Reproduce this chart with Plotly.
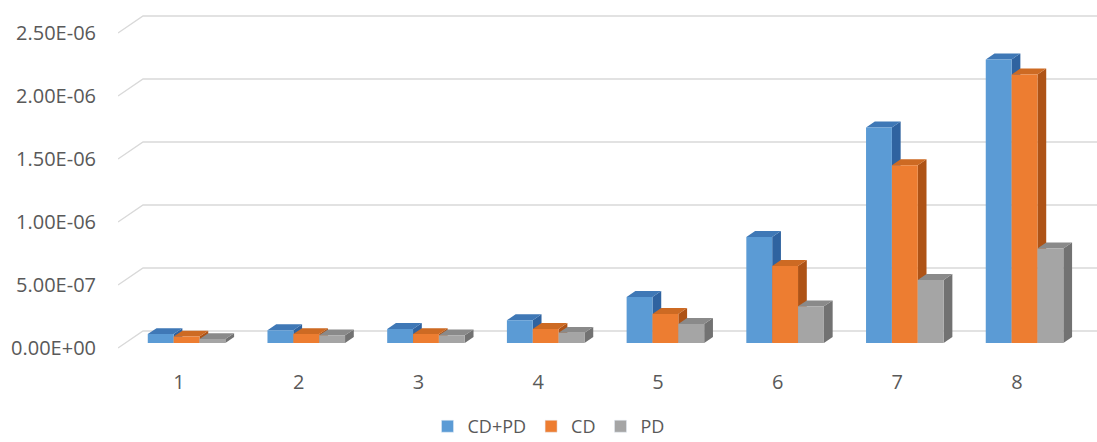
import plotly.graph_objects as go

# Data
categories = [1, 2, 3, 4, 5, 6, 7, 8]
category_labels = ["1", "2", "3", "4", "5", "6", "7", "8"]
cd_pd = [7e-8, 1.0e-7, 1.1e-7, 1.8e-7, 3.65e-7, 8.4e-7, 1.71e-6, 2.25e-6]
cd = [5e-8, 7e-8, 7e-8, 1.1e-7, 2.3e-7, 6.1e-7, 1.41e-6, 2.13e-6]
pd_vals = [3e-8, 6e-8, 6e-8, 8e-8, 1.5e-7, 2.9e-7, 5.0e-7, 7.5e-7]
series_names = ["CD+PD", "CD", "PD"]
tick_values = [0, 5e-7, 1e-6, 1.5e-6, 2e-6, 2.5e-6]
tick_labels = ["0.00E+00", "5.00E-07", "1.00E-06", "1.50E-06", "2.00E-06", "2.50E-06"]

# Styling: front / top / side shades per series
colors = [
    ("#5b9bd5", "#3f78b6", "#2f63a0"),
    ("#ed7d31", "#cd6a23", "#ae5316"),
    ("#a5a5a5", "#8a8a8a", "#727272"),
]
FONT = dict(family="Open Sans", size=20, color="#595959")
LEGEND_FONT = dict(family="Open Sans", size=18, color="#595959")

# Oblique projection for the pseudo-3D look
X_RANGE = [0.49, 8.668]
Y_RANGE = [-9.52e-8, 2.6825e-6]
DX = 0.209          # floor depth, x units
DY = 1.349e-7       # floor depth, value units
D_FRONT, D_BACK = 0.30, 0.65
BAR_W = 0.216

fig = go.Figure()

# Back-wall gridlines with the diagonal on the left side wall
gx, gy = [], []
for v in tick_values:
    gx += [X_RANGE[0], X_RANGE[0] + DX, X_RANGE[1] + 1, None]
    gy += [v, v + DY, v + DY, None]
fig.add_trace(go.Scatter(x=gx, y=gy, mode="lines",
                         line=dict(color="#d9d9d9", width=1.4),
                         hoverinfo="skip", showlegend=False))


def shift(x, y, d):
    return x + d * DX, y + d * DY


all_series = [cd_pd, cd, pd_vals]
for s, (name, vals) in enumerate(zip(series_names, all_series)):
    front_c, top_c, side_c = colors[s]
    fx, fy, tx, ty, sx, sy = [], [], [], [], [], []
    for c, v in zip(categories, vals):
        x0 = c - 1.5 * BAR_W + s * BAR_W
        x1 = x0 + BAR_W
        # front face
        pts = [shift(x0, 0, D_FRONT), shift(x1, 0, D_FRONT),
               shift(x1, v, D_FRONT), shift(x0, v, D_FRONT)]
        fx += [p[0] for p in pts] + [None]
        fy += [p[1] for p in pts] + [None]
        # top face
        pts = [shift(x0, v, D_FRONT), shift(x1, v, D_FRONT),
               shift(x1, v, D_BACK), shift(x0, v, D_BACK)]
        tx += [p[0] for p in pts] + [None]
        ty += [p[1] for p in pts] + [None]
        # right side face
        pts = [shift(x1, 0, D_FRONT), shift(x1, v, D_FRONT),
               shift(x1, v, D_BACK), shift(x1, 0, D_BACK)]
        sx += [p[0] for p in pts] + [None]
        sy += [p[1] for p in pts] + [None]
    for xs, ys, col in ((sx, sy, side_c), (tx, ty, top_c), (fx, fy, front_c)):
        fig.add_trace(go.Scatter(x=xs, y=ys, mode="lines", fill="toself",
                                 fillcolor=col, line=dict(width=0, color=col),
                                 hoverinfo="skip", showlegend=False))

# Legend entries
for s, name in enumerate(series_names):
    fig.add_trace(go.Bar(x=[None], y=[None], name=name,
                         marker=dict(color=colors[s][0]), showlegend=True))

fig.update_layout(
    width=1097, height=442,
    margin=dict(l=118, r=0, t=10, b=82),
    paper_bgcolor="white", plot_bgcolor="white",
    font=FONT,
    showlegend=True,
    legend=dict(orientation="h", xref="container", yref="container",
                x=0.5, xanchor="center", y=0.035, yanchor="middle",
                font=LEGEND_FONT, itemwidth=30, traceorder="normal"),
    xaxis=dict(range=X_RANGE, tickvals=categories, ticktext=category_labels,
               showgrid=False, zeroline=False, showline=False,
               ticks="outside", ticklen=4, tickcolor="rgba(0,0,0,0)",
               fixedrange=True),
    yaxis=dict(range=Y_RANGE, tickvals=tick_values, ticktext=tick_labels,
               showgrid=False, zeroline=False, showline=False,
               ticks="outside", ticklen=17, tickcolor="rgba(0,0,0,0)",
               fixedrange=True),
)

fig.write_html("out.html")
